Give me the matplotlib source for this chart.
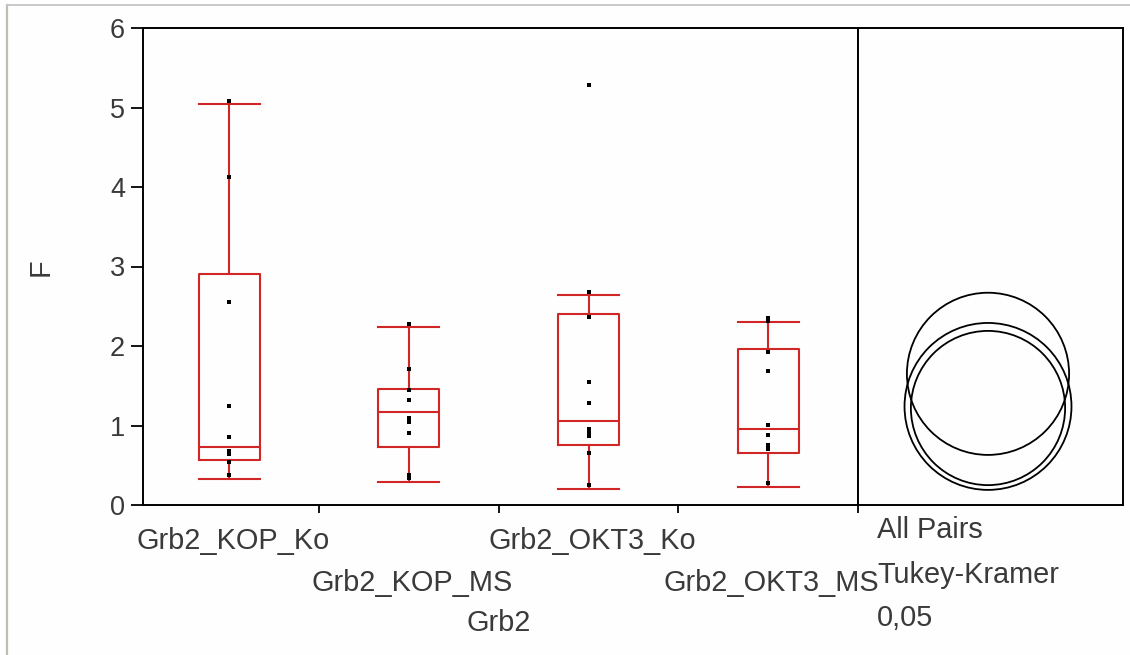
import matplotlib
matplotlib.use('Agg')
import matplotlib.pyplot as plt
from matplotlib.patches import Circle
from matplotlib.lines import Line2D
from matplotlib import transforms

W, H = 1130, 655
DPI = 100

# ---- data ----
categories = ['Grb2_KOP_Ko', 'Grb2_KOP_MS', 'Grb2_OKT3_Ko', 'Grb2_OKT3_MS']
points_kop_ko = [5.08, 4.12, 2.55, 1.25, 0.85, 0.68, 0.64, 0.54, 0.38]
points_kop_ms = [2.28, 1.71, 1.45, 1.32, 1.09, 1.04, 0.91, 0.38, 0.34]
points_okt3_ko = [5.28, 2.68, 2.36, 1.55, 1.28, 0.96, 0.91, 0.87, 0.65, 0.25]
points_okt3_ms = [2.35, 2.32, 1.92, 1.69, 1.01, 0.88, 0.75, 0.70, 0.28]
q1 = [0.57, 0.73, 0.75, 0.66]
medians = [0.73, 1.17, 1.06, 0.96]
q3 = [2.91, 1.46, 2.40, 1.96]
whisker_low = [0.33, 0.29, 0.20, 0.23]
whisker_high = [5.04, 2.24, 2.64, 2.30]
circle_centers = [1.65, 1.24, 1.22]
circle_radii = [1.02, 1.05, 0.97]
yticks = [0, 1, 2, 3, 4, 5, 6]
x_title = 'Grb2'
y_title = 'F'
test_labels = ['All Pairs', 'Tukey-Kramer', '0,05']

points = [points_kop_ko, points_kop_ms, points_okt3_ko, points_okt3_ms]

RED = '#d02626'
TXT = '#3a3a3a'
FS = 20.8
plt.rcParams['font.family'] = ['Liberation Sans', 'DejaVu Sans']

fig = plt.figure(figsize=(W / DPI, H / DPI), dpi=DPI, facecolor='#fefefe')

def px(x, y):
    return x / W, 1 - y / H

# axes rectangles in pixels
L, R, T, B = 143, 858, 28, 505
R2 = 1123
ax = fig.add_axes([L / W, 1 - B / H, (R - L) / W, (B - T) / H])
ax2 = fig.add_axes([R / W, 1 - B / H, (R2 - R) / W, (B - T) / H], sharey=ax)
for a in (ax, ax2):
    a.set_facecolor('#fefefe')
    for s in a.spines.values():
        s.set_linewidth(1.4)
        s.set_color('black')

stats = []
for i in range(len(categories)):
    stats.append(dict(med=medians[i], q1=q1[i], q3=q3[i],
                      whislo=whisker_low[i], whishi=whisker_high[i],
                      fliers=[], label=categories[i]))
lp = dict(color=RED, linewidth=1.5)
ax.bxp(stats, positions=range(len(categories)), widths=0.34, capwidths=0.34,
       showfliers=False, boxprops=lp, whiskerprops=lp, capprops=lp,
       medianprops=lp, manage_ticks=False)
for i, pts in enumerate(points):
    ax.scatter([i] * len(pts), pts, marker='s', s=10, color='black',
               linewidths=0, zorder=4)

ax.set_xlim(-0.48, 3.5)
ax.set_ylim(0, 6)
ax.set_yticks(yticks)
ax.set_yticklabels([str(v) for v in yticks], fontsize=19.5, color=TXT)
ax.tick_params(axis='y', direction='out', length=9, width=1.3, pad=4)
ax.set_xticks([0.5, 1.5, 2.5, 3.5])
ax.set_xticklabels([])
ax.tick_params(axis='x', direction='out', length=6, width=1.3)

# staggered category labels
tr = transforms.blended_transform_factory(ax.transData, ax.transAxes)
row_y = [(B - 541) / (B - T), (B - 583) / (B - T)]
for i, c in enumerate(categories):
    ax.text(i + 0.02, row_y[i % 2], c, transform=tr, ha='center', va='center',
            fontsize=FS, color=TXT)
ax.text(1.5, (B - 623) / (B - T), x_title, transform=tr, ha='center',
        va='center', fontsize=FS, color=TXT)
fig.text(*px(41, 267), y_title, rotation=90, ha='center', va='center',
         fontsize=FS, color=TXT)

# comparison circles panel
ppu = (B - T) / 6.0
ax2.set_xlim(0, (R2 - R) / ppu)
ax2.set_xticks([])
ax2.tick_params(axis='y', left=False, labelleft=False)
cx = (988 - R) / ppu
for c, r in zip(circle_centers, circle_radii):
    ax2.add_patch(Circle((cx, c), r, fill=False, edgecolor='black',
                         linewidth=1.3))

for lab, yy in zip(test_labels, [530, 575, 618]):
    fig.text(*px(877, yy), lab, ha='left', va='center', fontsize=FS,
             color=TXT)

# light outer frame lines
fig.add_artist(Line2D([7 / W, 7 / W], [0, 1 - 5 / H], transform=fig.transFigure,
                      color='#bdbdb5', linewidth=1.6))
fig.add_artist(Line2D([7 / W, 1], [1 - 5 / H, 1 - 5 / H], transform=fig.transFigure,
                      color='#c8c8c8', linewidth=1.4))

fig.savefig('out.png', dpi=DPI, facecolor=fig.get_facecolor())
